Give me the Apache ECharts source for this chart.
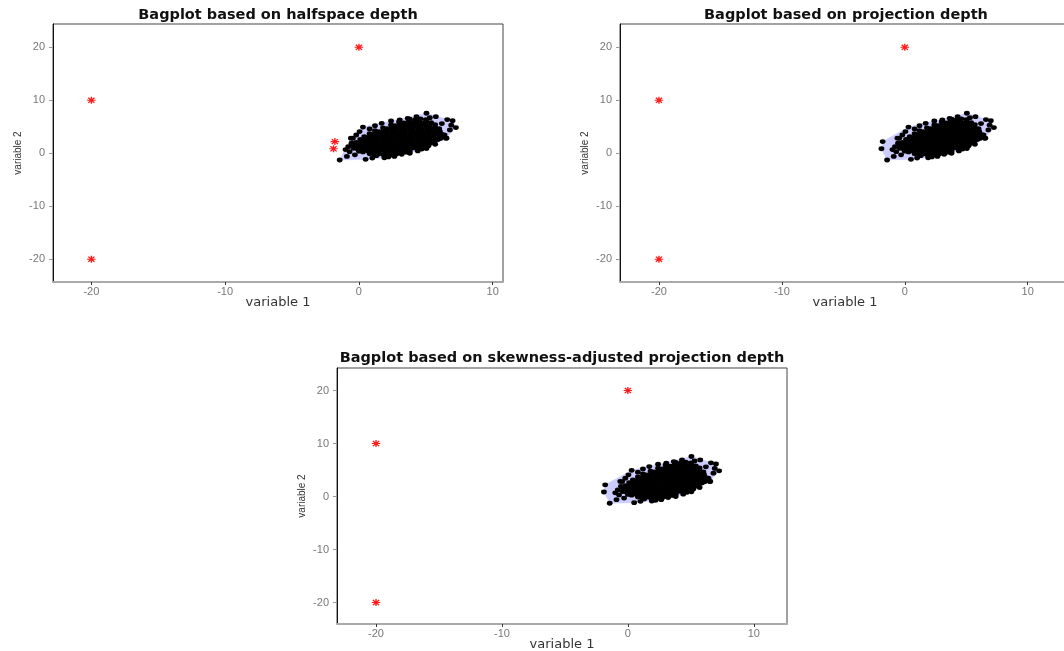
<!DOCTYPE html>
<html>
<head>
<meta charset="utf-8">
<script src="https://cdn.jsdelivr.net/npm/echarts@6/dist/echarts.min.js"></script>
<style>html,body{margin:0;padding:0;background:#fff;}#c{width:1064px;height:651px;}</style>
</head>
<body>
<div id="c"></div>
<script>
// ---------------- data ----------------
const panelTitles = [
  'Bagplot based on halfspace depth',
  'Bagplot based on projection depth',
  'Bagplot based on skewness-adjusted projection depth'
];
const xTicks = [-20, -10, 0, 10];
const yTicks = [-20, -10, 0, 10, 20];

// main cloud of observations (variable 1, variable 2)
const cloudPts = [
  [0.8,-0.1],[1.15,-0.3],[1.45,-0.15],[1.8,-0.25],[2.1,-0.05],[2.45,-0.3],[2.8,-0.15],
  [0.0,0.4],[0.3,0.25],[0.65,0.45],[0.95,0.3],[1.3,0.2],[1.6,0.5],[1.95,0.35],[2.25,0.2],[2.6,0.45],[2.9,0.3],[3.25,0.4],[3.55,0.2],[3.8,0.45],
  [-0.4,0.95],[-0.1,0.8],[0.25,1.0],[0.55,0.85],[0.9,0.95],[1.2,0.75],[1.55,1.0],[1.85,0.85],[2.2,0.95],[2.5,0.8],[2.85,1.05],[3.15,0.85],[3.5,0.95],[3.8,0.8],[4.1,1.0],[4.4,0.85],[4.6,1.05],
  [-0.4,1.5],[-0.05,1.35],[0.3,1.55],[0.6,1.4],[0.95,1.5],[1.25,1.35],[1.6,1.55],[1.9,1.4],[2.25,1.5],[2.55,1.35],[2.9,1.55],[3.2,1.4],[3.55,1.5],[3.85,1.35],[4.2,1.55],[4.5,1.4],[4.85,1.5],[5.2,1.4],
  [-0.2,2.05],[0.1,1.9],[0.45,2.1],[0.75,1.95],[1.1,2.05],[1.4,1.9],[1.75,2.1],[2.05,1.95],[2.4,2.05],[2.7,1.9],[3.05,2.1],[3.35,1.95],[3.7,2.05],[4.0,1.9],[4.35,2.1],[4.65,1.95],[5.0,2.05],[5.3,1.9],[5.6,2.1],
  [0.1,2.6],[0.45,2.45],[0.75,2.65],[1.1,2.5],[1.4,2.6],[1.75,2.45],[2.05,2.65],[2.4,2.5],[2.7,2.6],[3.05,2.45],[3.35,2.65],[3.7,2.5],[4.0,2.6],[4.35,2.45],[4.65,2.65],[5.0,2.5],[5.3,2.6],[5.6,2.45],[5.9,2.6],
  [0.4,3.15],[0.7,3.0],[1.05,3.2],[1.35,3.05],[1.7,3.15],[2.0,3.0],[2.35,3.2],[2.65,3.05],[3.0,3.15],[3.3,3.0],[3.65,3.2],[3.95,3.05],[4.3,3.15],[4.6,3.0],[4.95,3.2],[5.25,3.05],[5.6,3.15],[6.0,3.05],
  [0.8,3.7],[1.1,3.55],[1.45,3.75],[1.75,3.6],[2.1,3.7],[2.4,3.55],[2.75,3.75],[3.05,3.6],[3.4,3.7],[3.7,3.55],[4.05,3.75],[4.35,3.6],[4.7,3.7],[5.0,3.55],[5.35,3.75],[5.65,3.6],[6.0,3.7],[6.2,3.55],
  [1.2,4.25],[1.5,4.1],[1.85,4.3],[2.15,4.15],[2.5,4.25],[2.8,4.1],[3.15,4.3],[3.45,4.15],[3.8,4.25],[4.1,4.1],[4.45,4.3],[4.75,4.15],[5.1,4.25],[5.4,4.1],[5.75,4.3],[6.05,4.15],
  [1.8,4.8],[2.1,4.65],[2.45,4.85],[2.75,4.7],[3.1,4.8],[3.4,4.65],[3.75,4.85],[4.05,4.7],[4.4,4.8],[4.7,4.65],[5.05,4.85],[5.35,4.7],[5.7,4.8],[6.0,4.65],
  [2.4,5.35],[2.7,5.2],[3.05,5.4],[3.35,5.25],[3.7,5.35],[4.0,5.2],[4.35,5.4],[4.65,5.25],[5.0,5.35],[5.3,5.2],[5.7,5.4],
  [3.0,5.9],[3.35,5.75],[3.7,5.95],[4.0,5.8],[4.35,5.9],[4.7,5.75],[5.05,5.95],[5.4,5.8],
  [3.8,6.45],[4.2,6.3],[4.6,6.5],[5.0,6.35],
  [-1.44,-1.27],[-0.9,-0.6],[-0.3,-0.3],[0.5,-1.15],[1.3,-0.45],[1.9,-0.85],[2.65,-0.6],[3.2,-0.2],[3.8,0.0],[4.4,0.45],
  [4.7,0.8],[5.05,0.9],[5.7,1.7],[6.1,2.8],[6.5,2.85],[6.4,3.45],[6.8,4.4],[7.25,4.85],[7.0,6.15],[6.6,6.35],
  [5.75,6.9],[5.3,6.7],[5.05,7.55],[4.3,6.9],[3.65,6.6],[3.05,6.3],[2.4,6.1],[1.7,5.65],[1.2,5.2],[0.3,4.95],
  [0.05,4.1],[-0.2,3.45],[-0.6,2.85],[-0.55,1.9],[-0.8,1.25],[-0.7,0.3],[-0.45,2.83],[6.55,2.85],[6.9,5.3],[6.2,5.6],
  [1.0,-0.9],[2.2,-0.7],[-1.0,0.7],[0.8,4.6]
];
// two observations flagged only by the halfspace bagplot
const nearPts = [[-1.8,2.2],[-1.9,0.85]];
// far outliers flagged in every panel
const farOutliers = [[-20,10],[-20,-20],[0,20]];

// loops (convex hull of non-outlying points)
const loopHalfspace = [[-1.44,-1.27],[-0.6,2.85],[0.3,4.95],[5.05,7.55],[7.0,6.15],[7.25,4.85],[6.5,2.85],[5.7,1.7],[5.05,0.9],[3.8,0.0],[2.65,-0.6],[1.9,-0.85],[0.5,-1.15]];
const loopProjection = [[-1.44,-1.27],[-1.9,0.85],[-1.8,2.2],[0.3,4.95],[5.05,7.55],[7.0,6.15],[7.25,4.85],[6.5,2.85],[5.7,1.7],[5.05,0.9],[3.8,0.0],[2.65,-0.6],[1.9,-0.85],[0.5,-1.15]];
const loopSkew = [[-1.44,-1.27],[-1.9,0.85],[-1.8,2.2],[0.3,4.95],[5.05,7.55],[7.0,6.15],[7.25,4.85],[6.5,2.85],[5.7,1.7],[5.05,0.9],[3.8,0.0],[2.65,-0.6],[1.9,-0.85],[0.5,-1.15]];

// ---------------- chart ----------------
const FONT = "'Liberation Sans', Arial, sans-serif";
const WIDE = "'DejaVu Sans', Verdana, sans-serif";
const STAR = 'path://M0,8.4L20,8.4L20,11.6L0,11.6Z M8.4,0L11.6,0L11.6,20L8.4,20Z M1.6,3.9L3.9,1.6L18.4,16.1L16.1,18.4Z M16.1,1.6L18.4,3.9L3.9,18.4L1.6,16.1Z';

const panels = [
  {grid:{left:53, top:24, width:450, height:258}, x:[-22.87,10.77], y:[-24.3,24.4], titleX:278, titleTop:8,
   loop:loopHalfspace, black:cloudPts, red:farOutliers.concat(nearPts)},
  {grid:{left:620, top:24, width:450, height:258}, x:[-23.17,13.44], y:[-24.3,24.4], titleX:846, titleTop:8,
   loop:loopProjection, black:cloudPts.concat(nearPts), red:farOutliers},
  {grid:{left:337, top:368, width:450, height:256}, x:[-23.1,12.64], y:[-24.05,24.25], titleX:562, titleTop:351,
   loop:loopSkew, black:cloudPts.concat(nearPts), red:farOutliers}
];

const option = {animation:false, backgroundColor:'#fff', title:[], grid:[], xAxis:[], yAxis:[], series:[]};
panels.forEach((p, i) => {
  option.title.push({text: panelTitles[i], left: p.titleX, top: p.titleTop, textAlign:'center', padding:0,
    textStyle:{fontFamily:WIDE, fontSize:14.5, fontWeight:'bold', color:'#111'}});
  option.grid.push(Object.assign({show:true, borderColor:'#444', borderWidth:1, backgroundColor:'transparent',
    outerBoundsMode:'none', containLabel:false}, p.grid));
  option.xAxis.push({gridIndex:i, type:'value', min:p.x[0], max:p.x[1],
    splitLine:{show:false},
    axisLine:{show:true, onZero:false, lineStyle:{color:'#aaaaaa', width:2}},
    axisTick:{show:true, length:3, customValues:xTicks, lineStyle:{color:'#333'}},
    axisLabel:{customValues:xTicks, color:'#777', fontSize:11, fontFamily:FONT, margin:4},
    name:'variable 1', nameLocation:'middle', nameGap:14, nameMoveOverlap:false,
    nameTextStyle:{fontFamily:WIDE, fontSize:13, color:'#333'}});
  option.yAxis.push({gridIndex:i, type:'value', min:p.y[0], max:p.y[1],
    splitLine:{show:false},
    axisLine:{show:true, onZero:false, lineStyle:{color:'#111', width:1}},
    axisTick:{show:true, length:4, customValues:yTicks, lineStyle:{color:'#999'}},
    axisLabel:{customValues:yTicks, color:'#777', fontSize:11, fontFamily:FONT, margin:8},
    name:'variable 2', nameLocation:'middle', nameGap:30, nameMoveOverlap:false,
    nameTextStyle:{fontFamily:FONT, fontSize:10, color:'#333'}});
  const loopData = p.loop;
  option.series.push({type:'custom', xAxisIndex:i, yAxisIndex:i, data:loopData, silent:true, z:1,
    encode:{x:0, y:1},
    renderItem:(params, api) => {
      if (params.dataIndex !== 0) return null;
      const pts = loopData.map(d => api.coord(d));
      return {type:'polygon', shape:{points:pts}, style:{fill:'#ccccff', stroke:'#ccccff', lineWidth:0.5}};
    }});
  option.series.push({type:'scatter', xAxisIndex:i, yAxisIndex:i, data:p.black, silent:true, z:2,
    symbol:'circle', symbolSize:[5.8,4.8], itemStyle:{color:'#000', opacity:1}});
  option.series.push({type:'scatter', xAxisIndex:i, yAxisIndex:i, data:p.red, silent:true, z:3,
    symbol:STAR, symbolSize:[8.5,7], itemStyle:{color:'#ff1a1a', opacity:1}});
});

const chart = echarts.init(document.getElementById('c'), null, {renderer:'canvas'});
chart.setOption(option);
</script>
</body>
</html>
